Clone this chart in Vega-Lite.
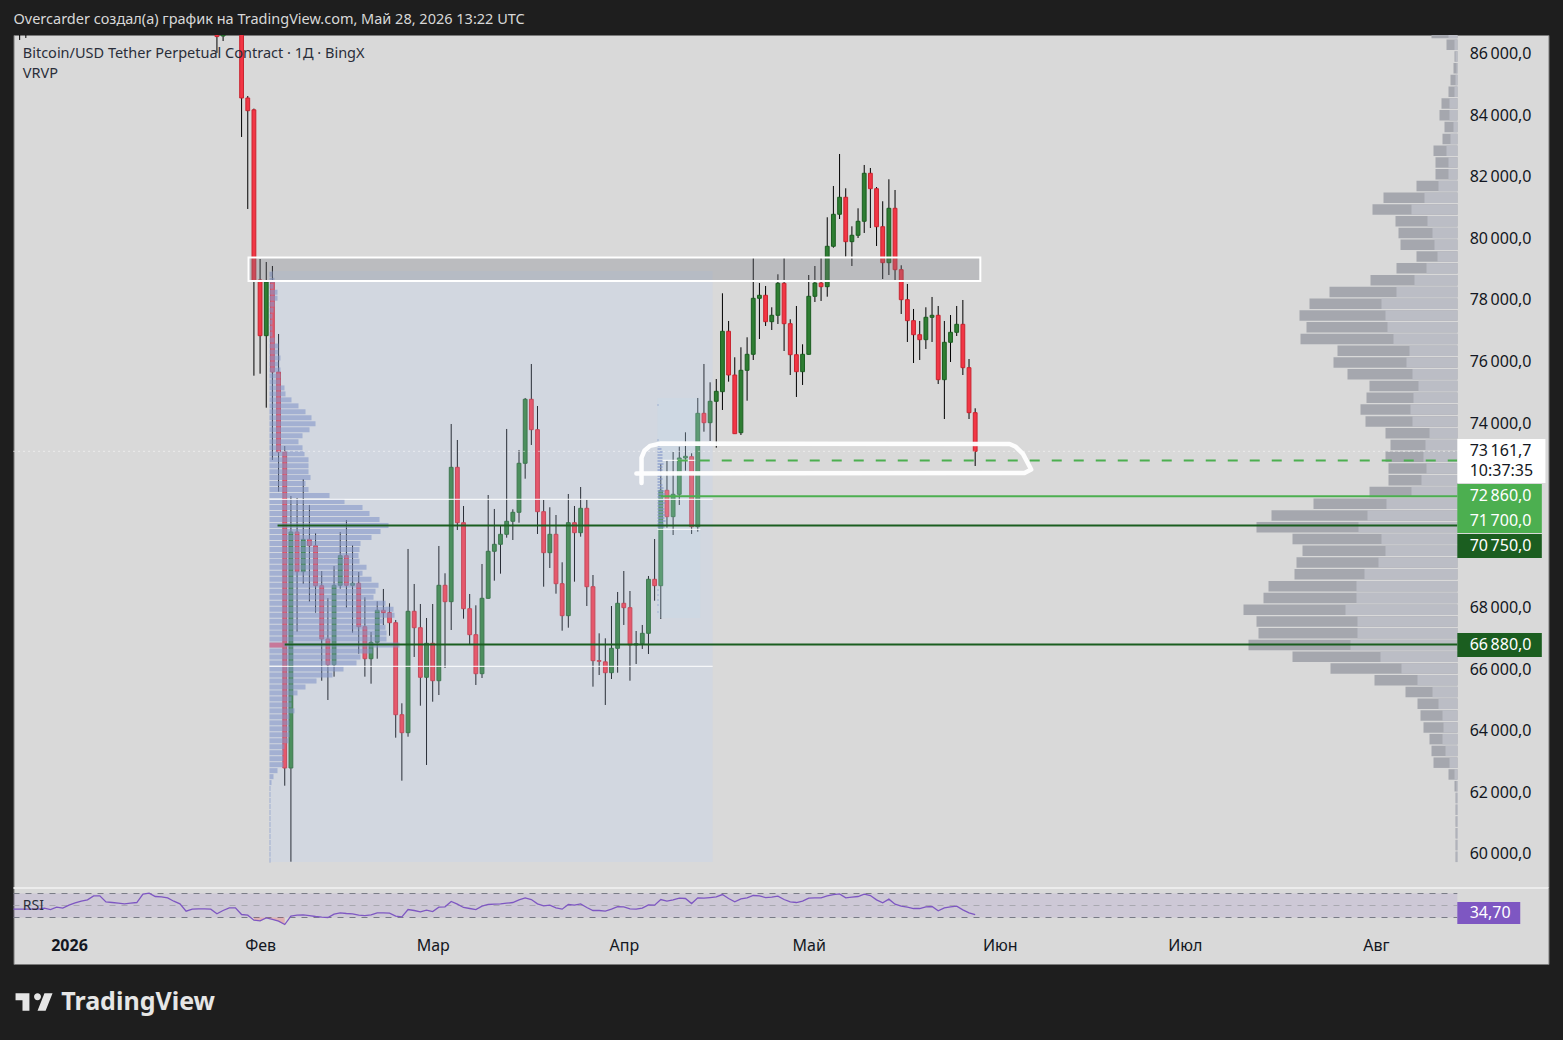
{
  "$schema": "https://vega.github.io/schema/vega-lite/v6.json",
  "background": "#1e1e1e",
  "padding": {"left": 9.5, "right": 14, "top": 0, "bottom": 0},
  "bounds": "flush",
  "spacing": 0,
  "config": {"view": {"stroke": null}, "font": "Noto Sans"},
  "datasets": {
    "candles": [
      {"d":"2025-12-24","o":87500,"h":88000,"l":86530,"c":87400},
      {"d":"2025-12-25","o":87400,"h":88000,"l":86595,"c":87500},
      {"d":"2026-01-25","o":86855,"h":86950,"l":86108,"c":86640},
      {"d":"2026-01-26","o":86660,"h":86950,"l":86497,"c":86800},
      {"d":"2026-01-27","o":86800,"h":88500,"l":86750,"c":88000},
      {"d":"2026-01-28","o":88000,"h":88800,"l":87500,"c":88200},
      {"d":"2026-01-29","o":88000,"h":88200,"l":83378,"c":84645},
      {"d":"2026-01-30","o":84645,"h":84710,"l":81038,"c":84232},
      {"d":"2026-01-31","o":84260,"h":84300,"l":75620,"c":78707},
      {"d":"2026-02-01","o":78730,"h":79412,"l":75685,"c":76920},
      {"d":"2026-02-02","o":76920,"h":79315,"l":74580,"c":78665},
      {"d":"2026-02-03","o":78665,"h":79185,"l":72880,"c":75740},
      {"d":"2026-02-04","o":75740,"h":76975,"l":71850,"c":73140},
      {"d":"2026-02-05","o":73140,"h":73335,"l":62295,"c":62870},
      {"d":"2026-02-06","o":62870,"h":71710,"l":59825,"c":70540},
      {"d":"2026-02-07","o":70540,"h":71645,"l":67300,"c":69250},
      {"d":"2026-02-08","o":69250,"h":72262,"l":68850,"c":70300},
      {"d":"2026-02-09","o":70300,"h":71418,"l":68275,"c":70095},
      {"d":"2026-02-10","o":70095,"h":70508,"l":67918,"c":68795},
      {"d":"2026-02-11","o":68795,"h":69272,"l":65707,"c":67062},
      {"d":"2026-02-12","o":67062,"h":68395,"l":65080,"c":66227},
      {"d":"2026-02-13","o":66227,"h":69435,"l":65838,"c":68808},
      {"d":"2026-02-14","o":68808,"h":70540,"l":68697,"c":69770},
      {"d":"2026-02-15","o":69770,"h":70930,"l":68080,"c":68808},
      {"d":"2026-02-16","o":68808,"h":70108,"l":67268,"c":68873},
      {"d":"2026-02-17","o":68873,"h":69240,"l":66585,"c":67462},
      {"d":"2026-02-18","o":67462,"h":68418,"l":65838,"c":66422},
      {"d":"2026-02-19","o":66422,"h":67290,"l":65610,"c":66955},
      {"d":"2026-02-20","o":66955,"h":68288,"l":66422,"c":67995},
      {"d":"2026-02-21","o":67995,"h":68688,"l":67518,"c":67918},
      {"d":"2026-02-22","o":67918,"h":68223,"l":67170,"c":67592},
      {"d":"2026-02-23","o":67592,"h":67680,"l":63855,"c":64602},
      {"d":"2026-02-24","o":64602,"h":64973,"l":62458,"c":64018},
      {"d":"2026-02-25","o":64018,"h":69988,"l":63887,"c":67963},
      {"d":"2026-02-26","o":67963,"h":68850,"l":66478,"c":67430},
      {"d":"2026-02-27","o":67430,"h":68200,"l":64895,"c":65818},
      {"d":"2026-02-28","o":65818,"h":67745,"l":62968,"c":66923},
      {"d":"2026-03-01","o":66923,"h":68200,"l":65025,"c":65707},
      {"d":"2026-03-02","o":65707,"h":70085,"l":65242,"c":68808},
      {"d":"2026-03-03","o":68808,"h":69198,"l":66120,"c":68275},
      {"d":"2026-03-04","o":68275,"h":74050,"l":67355,"c":72642},
      {"d":"2026-03-05","o":72642,"h":73530,"l":70605,"c":70842},
      {"d":"2026-03-06","o":70842,"h":71385,"l":67723,"c":68047},
      {"d":"2026-03-07","o":68047,"h":68525,"l":66868,"c":67203},
      {"d":"2026-03-08","o":67203,"h":68157,"l":65568,"c":65935},
      {"d":"2026-03-09","o":65935,"h":69500,"l":65795,"c":68385},
      {"d":"2026-03-10","o":68385,"h":71742,"l":68372,"c":69913},
      {"d":"2026-03-11","o":69913,"h":71288,"l":68957,"c":70140},
      {"d":"2026-03-12","o":70140,"h":70745,"l":69185,"c":70465},
      {"d":"2026-03-13","o":70465,"h":73888,"l":70355,"c":70888},
      {"d":"2026-03-14","o":70888,"h":71278,"l":70280,"c":71180},
      {"d":"2026-03-15","o":71180,"h":73205,"l":70842,"c":72773},
      {"d":"2026-03-16","o":72773,"h":74895,"l":72272,"c":74853},
      {"d":"2026-03-17","o":74853,"h":76000,"l":73368,"c":73865},
      {"d":"2026-03-18","o":73865,"h":74635,"l":70475,"c":71200},
      {"d":"2026-03-19","o":71200,"h":71580,"l":68762,"c":69867},
      {"d":"2026-03-20","o":69867,"h":71343,"l":69370,"c":70465},
      {"d":"2026-03-21","o":70465,"h":71092,"l":68535,"c":68860},
      {"d":"2026-03-22","o":68860,"h":69555,"l":67333,"c":67820},
      {"d":"2026-03-23","o":67820,"h":71775,"l":67430,"c":70842},
      {"d":"2026-03-24","o":70842,"h":71385,"l":68925,"c":70517},
      {"d":"2026-03-25","o":70517,"h":72002,"l":70388,"c":71310},
      {"d":"2026-03-26","o":71310,"h":71580,"l":68135,"c":68762},
      {"d":"2026-03-27","o":68762,"h":69142,"l":65513,"c":66358},
      {"d":"2026-03-28","o":66358,"h":67247,"l":65892,"c":66340},
      {"d":"2026-03-29","o":66320,"h":67085,"l":64918,"c":65967},
      {"d":"2026-03-30","o":65967,"h":68135,"l":65762,"c":66760},
      {"d":"2026-03-31","o":66760,"h":68590,"l":65967,"c":68223},
      {"d":"2026-04-01","o":68223,"h":69272,"l":67518,"c":68080},
      {"d":"2026-04-02","o":68080,"h":68622,"l":65707,"c":66868},
      {"d":"2026-04-03","o":66868,"h":67322,"l":66250,"c":66910},
      {"d":"2026-04-04","o":66910,"h":67518,"l":66738,"c":67247},
      {"d":"2026-04-05","o":67247,"h":69110,"l":66575,"c":69003},
      {"d":"2026-04-06","o":69003,"h":70312,"l":68307,"c":68795},
      {"d":"2026-04-07","o":68795,"h":72750,"l":67712,"c":71895},
      {"d":"2026-04-08","o":71895,"h":72857,"l":70680,"c":71038},
      {"d":"2026-04-09","o":71038,"h":73140,"l":70442,"c":71765},
      {"d":"2026-04-10","o":71765,"h":73312,"l":71418,"c":72945},
      {"d":"2026-04-11","o":72945,"h":73780,"l":72532,"c":73000},
      {"d":"2026-04-12","o":72987,"h":73098,"l":70475,"c":70712},
      {"d":"2026-04-13","o":70712,"h":74895,"l":70550,"c":74397},
      {"d":"2026-04-14","o":74397,"h":76000,"l":73800,"c":74092},
      {"d":"2026-04-15","o":74092,"h":75405,"l":73498,"c":74788},
      {"d":"2026-04-16","o":74788,"h":75512,"l":73280,"c":75112},
      {"d":"2026-04-17","o":75100,"h":78298,"l":74505,"c":77063},
      {"d":"2026-04-18","o":77063,"h":77398,"l":75425,"c":75642},
      {"d":"2026-04-19","o":75642,"h":76218,"l":73735,"c":73735},
      {"d":"2026-04-20","o":73767,"h":76543,"l":73692,"c":75795},
      {"d":"2026-04-21","o":75795,"h":76868,"l":74807,"c":76315},
      {"d":"2026-04-22","o":76315,"h":79478,"l":76130,"c":78135},
      {"d":"2026-04-23","o":78135,"h":78632,"l":76812,"c":78233},
      {"d":"2026-04-24","o":78233,"h":78535,"l":77235,"c":77375},
      {"d":"2026-04-25","o":77375,"h":77843,"l":77105,"c":77583},
      {"d":"2026-04-26","o":77583,"h":78915,"l":77300,"c":78623},
      {"d":"2026-04-27","o":78623,"h":79445,"l":76422,"c":77310},
      {"d":"2026-04-28","o":77310,"h":77453,"l":75642,"c":76302},
      {"d":"2026-04-29","o":76302,"h":77885,"l":74928,"c":75750},
      {"d":"2026-04-30","o":75750,"h":76640,"l":75318,"c":76315},
      {"d":"2026-05-01","o":76315,"h":78892,"l":76302,"c":78200},
      {"d":"2026-05-02","o":78200,"h":79185,"l":78015,"c":78632},
      {"d":"2026-05-03","o":78632,"h":79445,"l":78048,"c":78512},
      {"d":"2026-05-04","o":78512,"h":80768,"l":78187,"c":79825},
      {"d":"2026-05-05","o":79825,"h":81785,"l":79780,"c":80865},
      {"d":"2026-05-06","o":80865,"h":82825,"l":80712,"c":81418},
      {"d":"2026-05-07","o":81418,"h":81710,"l":79487,"c":79975},
      {"d":"2026-05-08","o":79975,"h":80475,"l":79185,"c":80183},
      {"d":"2026-05-09","o":80183,"h":81060,"l":80095,"c":80638},
      {"d":"2026-05-10","o":80638,"h":82468,"l":80258,"c":82198},
      {"d":"2026-05-11","o":82198,"h":82370,"l":80420,"c":81697},
      {"d":"2026-05-12","o":81697,"h":81752,"l":79835,"c":80462},
      {"d":"2026-05-13","o":80462,"h":81288,"l":78762,"c":79292},
      {"d":"2026-05-14","o":79292,"h":82003,"l":78892,"c":81060},
      {"d":"2026-05-15","o":81060,"h":81655,"l":78698,"c":79065},
      {"d":"2026-05-16","o":79065,"h":79208,"l":77625,"c":78090},
      {"d":"2026-05-17","o":78090,"h":78600,"l":76715,"c":77408},
      {"d":"2026-05-18","o":77408,"h":77788,"l":76032,"c":76952},
      {"d":"2026-05-19","o":76952,"h":77398,"l":76130,"c":76790},
      {"d":"2026-05-20","o":76790,"h":77843,"l":76488,"c":77518},
      {"d":"2026-05-21","o":77518,"h":78178,"l":76715,"c":77583},
      {"d":"2026-05-22","o":77583,"h":77885,"l":75350,"c":75490},
      {"d":"2026-05-23","o":75490,"h":77398,"l":74212,"c":76705},
      {"d":"2026-05-24","o":76705,"h":77592,"l":76065,"c":77030},
      {"d":"2026-05-25","o":77030,"h":77885,"l":76910,"c":77290},
      {"d":"2026-05-26","o":77290,"h":78080,"l":75642,"c":75880},
      {"d":"2026-05-27","o":75880,"h":76162,"l":74212,"c":74418},
      {"d":"2026-05-28","o":74418,"h":74560,"l":72685,"c":73161.7}
    ],
    "vrvp": [
      {"p":78915,"v":3},{"p":78721,"v":5},{"p":78526,"v":4},{"p":78332,"v":8},{"p":78138,"v":8},{"p":77943,"v":5},{"p":77749,"v":4},{"p":77555,"v":3},{"p":77360,"v":3},{"p":77166,"v":3},
      {"p":76972,"v":3},{"p":76777,"v":5},{"p":76583,"v":9},{"p":76389,"v":9},{"p":76194,"v":11},{"p":76000,"v":9},{"p":75806,"v":11},{"p":75611,"v":11},{"p":75417,"v":11},{"p":75222,"v":15},
      {"p":75028,"v":16},{"p":74834,"v":22},{"p":74639,"v":29},{"p":74445,"v":36},{"p":74251,"v":42},{"p":74056,"v":46},{"p":73862,"v":40},{"p":73668,"v":33},{"p":73473,"v":29},{"p":73279,"v":33},
      {"p":73085,"v":35},{"p":72890,"v":39},{"p":72696,"v":39},{"p":72501,"v":39},{"p":72307,"v":41},{"p":72113,"v":36},{"p":71918,"v":39},{"p":71724,"v":60},{"p":71530,"v":75},{"p":71335,"v":93},
      {"p":71141,"v":100},{"p":70947,"v":110},{"p":70752,"v":119},{"p":70558,"v":111},{"p":70364,"v":102},{"p":70169,"v":91},{"p":69975,"v":90},{"p":69780,"v":89},{"p":69586,"v":90},{"p":69392,"v":97},
      {"p":69197,"v":93},{"p":69003,"v":102},{"p":68809,"v":109},{"p":68614,"v":106},{"p":68420,"v":104},{"p":68226,"v":116},{"p":68031,"v":124},{"p":67837,"v":125},{"p":67642,"v":114},{"p":67448,"v":116},
      {"p":67254,"v":117},{"p":67059,"v":117},{"p":66865,"v":130},{"p":66671,"v":103},{"p":66476,"v":91},{"p":66282,"v":87},{"p":66088,"v":74},{"p":65893,"v":63},{"p":65699,"v":47},{"p":65505,"v":36},
      {"p":65310,"v":28},{"p":65116,"v":22},{"p":64921,"v":22},{"p":64727,"v":25},{"p":64533,"v":20},{"p":64338,"v":20},{"p":64144,"v":20},{"p":63950,"v":20},{"p":63755,"v":19},{"p":63561,"v":15},
      {"p":63367,"v":14},{"p":63172,"v":14},{"p":62978,"v":14},{"p":62784,"v":8},{"p":62589,"v":4},{"p":62395,"v":2},{"p":62201,"v":1},{"p":62006,"v":1},{"p":61812,"v":1},{"p":61617,"v":1},
      {"p":61423,"v":1},{"p":61229,"v":1},{"p":61034,"v":1},{"p":60840,"v":1},{"p":60646,"v":1},{"p":60451,"v":1},{"p":60257,"v":1},{"p":60063,"v":1},{"p":59868,"v":1}
    ],
    "vrvp2": [
      {"p":74668,"v":1},{"p":73530,"v":1},{"p":73335,"v":2},{"p":73238,"v":4},{"p":73140,"v":5},{"p":73043,"v":5},{"p":72945,"v":5},{"p":72848,"v":5},{"p":72750,"v":6},{"p":72653,"v":5},
      {"p":72555,"v":5},{"p":72458,"v":6},{"p":72360,"v":4},{"p":72263,"v":5},{"p":72165,"v":3},{"p":72068,"v":5},{"p":71970,"v":6},{"p":71873,"v":7},{"p":71775,"v":8},{"p":71678,"v":6},
      {"p":71580,"v":7},{"p":71483,"v":8},{"p":71385,"v":6},{"p":71288,"v":7},{"p":71190,"v":7},{"p":71093,"v":8},{"p":70995,"v":7},{"p":70898,"v":8},{"p":70800,"v":6},{"p":70703,"v":7},
      {"p":68655,"v":1},{"p":68493,"v":1},{"p":68330,"v":1},{"p":68168,"v":1},{"p":67940,"v":1}
    ],
    "profile": [
      {"p":86758,"t":26,"b":9},{"p":86375,"t":11,"b":3},{"p":85993,"t":3,"b":2},{"p":85610,"t":4,"b":1},{"p":85228,"t":7,"b":2},{"p":84845,"t":9,"b":3},{"p":84463,"t":16,"b":8},{"p":84080,"t":18,"b":8},
      {"p":83698,"t":13,"b":4},{"p":83315,"t":15,"b":7},{"p":82933,"t":24,"b":11},{"p":82550,"t":22,"b":9},{"p":82168,"t":22,"b":9},{"p":81785,"t":41,"b":19},{"p":81403,"t":74,"b":33},{"p":81020,"t":85,"b":46},
      {"p":80638,"t":62,"b":30},{"p":80255,"t":59,"b":25},{"p":79873,"t":57,"b":23},{"p":79490,"t":41,"b":20},{"p":79108,"t":61,"b":31},{"p":78725,"t":87,"b":43},{"p":78343,"t":128,"b":61},{"p":77960,"t":148,"b":76},
      {"p":77578,"t":158,"b":72},{"p":77195,"t":151,"b":70},{"p":76813,"t":157,"b":64},{"p":76430,"t":120,"b":48},{"p":76048,"t":124,"b":51},{"p":75665,"t":110,"b":45},{"p":75283,"t":88,"b":39},{"p":74900,"t":91,"b":44},
      {"p":74518,"t":97,"b":47},{"p":74135,"t":92,"b":45},{"p":73753,"t":72,"b":28},{"p":73370,"t":67,"b":32},{"p":72988,"t":72,"b":34},{"p":72605,"t":69,"b":31},{"p":72223,"t":69,"b":36},{"p":71840,"t":88,"b":46},
      {"p":71458,"t":144,"b":71},{"p":71075,"t":186,"b":90},{"p":70693,"t":201,"b":99},{"p":70310,"t":165,"b":76},{"p":69928,"t":155,"b":72},{"p":69545,"t":161,"b":79},{"p":69163,"t":163,"b":93},{"p":68780,"t":189,"b":101},
      {"p":68398,"t":194,"b":101},{"p":68015,"t":214,"b":112},{"p":67633,"t":201,"b":100},{"p":67250,"t":199,"b":100},{"p":66868,"t":209,"b":107},{"p":66485,"t":165,"b":77},{"p":66103,"t":127,"b":56},{"p":65720,"t":83,"b":40},
      {"p":65338,"t":52,"b":25},{"p":64955,"t":40,"b":19},{"p":64573,"t":37,"b":15},{"p":64190,"t":34,"b":14},{"p":63808,"t":28,"b":15},{"p":63425,"t":26,"b":12},{"p":63043,"t":24,"b":8},{"p":62660,"t":9,"b":3},
      {"p":62278,"t":3,"b":1},{"p":61895,"t":2,"b":1},{"p":61513,"t":2,"b":1},{"p":61130,"t":2,"b":1},{"p":60748,"t":2,"b":1},{"p":60365,"t":2,"b":1},{"p":59983,"t":2,"b":1}
    ],
    "rsi": [
      {"d":"2025-12-23","rsi":43.9},{"d":"2025-12-24","rsi":43.9},{"d":"2025-12-25","rsi":43.9},{"d":"2025-12-26","rsi":43.9},{"d":"2025-12-27","rsi":43.9},{"d":"2025-12-28","rsi":45.6},{"d":"2025-12-29","rsi":43.3},{"d":"2025-12-30","rsi":47.2},{"d":"2025-12-31","rsi":45.6},
      {"d":"2026-01-01","rsi":50.6},{"d":"2026-01-02","rsi":54.4},{"d":"2026-01-03","rsi":57.2},{"d":"2026-01-04","rsi":59.4},{"d":"2026-01-05","rsi":66.1},{"d":"2026-01-06","rsi":66.1},{"d":"2026-01-07","rsi":56.1},{"d":"2026-01-08","rsi":55},{"d":"2026-01-09","rsi":53.9},{"d":"2026-01-10","rsi":52.8},
      {"d":"2026-01-11","rsi":53.9},{"d":"2026-01-12","rsi":55},{"d":"2026-01-13","rsi":68.9},{"d":"2026-01-14","rsi":70.6},{"d":"2026-01-15","rsi":65},{"d":"2026-01-16","rsi":64.4},{"d":"2026-01-17","rsi":62.8},{"d":"2026-01-18","rsi":57.2},{"d":"2026-01-19","rsi":52.8},{"d":"2026-01-20","rsi":40.6},
      {"d":"2026-01-21","rsi":43.9},{"d":"2026-01-22","rsi":44.4},{"d":"2026-01-23","rsi":44.4},{"d":"2026-01-24","rsi":43.9},{"d":"2026-01-25","rsi":36.1},{"d":"2026-01-26","rsi":41.7},{"d":"2026-01-27","rsi":46.1},{"d":"2026-01-28","rsi":46.1},{"d":"2026-01-29","rsi":35},{"d":"2026-01-30","rsi":33.9},{"d":"2026-01-31","rsi":25.6},
      {"d":"2026-02-01","rsi":24.4},{"d":"2026-02-02","rsi":29.4},{"d":"2026-02-03","rsi":26.7},{"d":"2026-02-04","rsi":23.9},{"d":"2026-02-05","rsi":18.3},{"d":"2026-02-06","rsi":32.2},{"d":"2026-02-07","rsi":33.9},{"d":"2026-02-08","rsi":34.4},{"d":"2026-02-09","rsi":33.3},{"d":"2026-02-10","rsi":31.7},
      {"d":"2026-02-11","rsi":30.6},{"d":"2026-02-12","rsi":30},{"d":"2026-02-13","rsi":35.6},{"d":"2026-02-14","rsi":37.8},{"d":"2026-02-15","rsi":36.7},{"d":"2026-02-16","rsi":36.1},{"d":"2026-02-17","rsi":33.9},{"d":"2026-02-18","rsi":33.3},{"d":"2026-02-19","rsi":34.4},{"d":"2026-02-20","rsi":37.8},
      {"d":"2026-02-21","rsi":37.8},{"d":"2026-02-22","rsi":37.2},{"d":"2026-02-23","rsi":32.2},{"d":"2026-02-24","rsi":31.1},{"d":"2026-02-25","rsi":43.3},{"d":"2026-02-26","rsi":41.7},{"d":"2026-02-27","rsi":39.4},{"d":"2026-02-28","rsi":42.2},
      {"d":"2026-03-01","rsi":40},{"d":"2026-03-02","rsi":47.2},{"d":"2026-03-03","rsi":47.8},{"d":"2026-03-04","rsi":56.7},{"d":"2026-03-05","rsi":52.2},{"d":"2026-03-06","rsi":46.7},{"d":"2026-03-07","rsi":45},{"d":"2026-03-08","rsi":43.3},{"d":"2026-03-09","rsi":48.9},{"d":"2026-03-10","rsi":51.7},
      {"d":"2026-03-11","rsi":52.2},{"d":"2026-03-12","rsi":52.8},{"d":"2026-03-13","rsi":53.9},{"d":"2026-03-14","rsi":55},{"d":"2026-03-15","rsi":59.4},{"d":"2026-03-16","rsi":62.8},{"d":"2026-03-17","rsi":60},{"d":"2026-03-18","rsi":52.8},{"d":"2026-03-19","rsi":49.4},{"d":"2026-03-20","rsi":50.6},
      {"d":"2026-03-21","rsi":46.1},{"d":"2026-03-22","rsi":43.9},{"d":"2026-03-23","rsi":51.7},{"d":"2026-03-24","rsi":50.6},{"d":"2026-03-25","rsi":52.8},{"d":"2026-03-26","rsi":46.7},{"d":"2026-03-27","rsi":41.7},{"d":"2026-03-28","rsi":41.7},{"d":"2026-03-29","rsi":40.6},{"d":"2026-03-30","rsi":43.9},{"d":"2026-03-31","rsi":48.3},
      {"d":"2026-04-01","rsi":47.8},{"d":"2026-04-02","rsi":44.4},{"d":"2026-04-03","rsi":43.9},{"d":"2026-04-04","rsi":45.6},{"d":"2026-04-05","rsi":51.1},{"d":"2026-04-06","rsi":50.6},{"d":"2026-04-07","rsi":60},{"d":"2026-04-08","rsi":57.2},{"d":"2026-04-09","rsi":59.4},{"d":"2026-04-10","rsi":62.2},
      {"d":"2026-04-11","rsi":61.7},{"d":"2026-04-12","rsi":53.3},{"d":"2026-04-13","rsi":62.8},{"d":"2026-04-14","rsi":62.2},{"d":"2026-04-15","rsi":63.3},{"d":"2026-04-16","rsi":64.4},{"d":"2026-04-17","rsi":68.3},{"d":"2026-04-18","rsi":61.7},{"d":"2026-04-19","rsi":56.1},{"d":"2026-04-20","rsi":61.1},
      {"d":"2026-04-21","rsi":62.8},{"d":"2026-04-22","rsi":66.7},{"d":"2026-04-23","rsi":66.1},{"d":"2026-04-24","rsi":63.3},{"d":"2026-04-25","rsi":63.9},{"d":"2026-04-26","rsi":65.6},{"d":"2026-04-27","rsi":60},{"d":"2026-04-28","rsi":56.1},{"d":"2026-04-29","rsi":55},{"d":"2026-04-30","rsi":57.2},
      {"d":"2026-05-01","rsi":62.2},{"d":"2026-05-02","rsi":62.8},{"d":"2026-05-03","rsi":62.8},{"d":"2026-05-04","rsi":66.1},{"d":"2026-05-05","rsi":68.3},{"d":"2026-05-06","rsi":69.4},{"d":"2026-05-07","rsi":62.8},{"d":"2026-05-08","rsi":63.9},{"d":"2026-05-09","rsi":65},{"d":"2026-05-10","rsi":68.9},
      {"d":"2026-05-11","rsi":66.7},{"d":"2026-05-12","rsi":59.4},{"d":"2026-05-13","rsi":54.4},{"d":"2026-05-14","rsi":60.6},{"d":"2026-05-15","rsi":52.2},{"d":"2026-05-16","rsi":48.9},{"d":"2026-05-17","rsi":47.2},{"d":"2026-05-18","rsi":45},{"d":"2026-05-19","rsi":45},{"d":"2026-05-20","rsi":47.8},
      {"d":"2026-05-21","rsi":48.3},{"d":"2026-05-22","rsi":41.1},{"d":"2026-05-23","rsi":46.1},{"d":"2026-05-24","rsi":47.8},{"d":"2026-05-25","rsi":48.9},{"d":"2026-05-26","rsi":42.8},{"d":"2026-05-27","rsi":37.8},{"d":"2026-05-28","rsi":34.7}
    ]
  },
  "vconcat": [
    {
      "width": 1535,
      "height": 35,
      "data": {"values": [{"x": "2025-12-23T00:00:00Z", "y": 0.44, "t": "Overcarder создал(а) график на TradingView.com, Май 28, 2026 13:22 UTC"}]},
      "mark": {"type": "text", "align": "left", "baseline": "middle", "fontSize": 14.5, "color": "#d8d8d8"},
      "encoding": {
        "x": {"field": "x", "type": "temporal", "axis": null, "scale": {"type": "utc", "domain": ["2025-12-23T00:00:00Z", "2026-08-29T00:00:00Z"]}},
        "y": {"field": "y", "type": "quantitative", "axis": null, "scale": {"domain": [0, 1]}},
        "text": {"field": "t"}
      }
    },
    {
      "width": 1535,
      "height": 853,
      "view": {"fill": "#d9d9d9", "stroke": "#7a7a7a"},
      "resolve": {"scale": {"x": "independent"}},
      "layer": [
        {
          "data": {"name": "candles"},
          "mark": {"type": "rule", "color": "#000000", "strokeWidth": 1, "clip": true},
          "encoding": {
            "x": {"field": "d", "type": "temporal", "axis": null, "scale": {"type": "utc", "domain": ["2025-12-23T00:00:00Z", "2026-08-29T00:00:00Z"]}},
            "y": {"field": "h", "type": "quantitative", "title": null, "axis": null, "scale": {"domain": [58970, 86692], "nice": false, "zero": false, "padding": 0}},
            "y2": {"field": "l"}
          }
        },
        {
          "data": {"name": "candles"},
          "mark": {"type": "bar", "size": 3.8, "strokeWidth": 1, "clip": true},
          "encoding": {
            "x": {"field": "d", "type": "temporal", "axis": null, "scale": {"type": "utc", "padding": 0, "domain": ["2025-12-23T00:00:00Z", "2026-08-29T00:00:00Z"]}},
            "y": {"field": "o", "type": "quantitative", "axis": null},
            "y2": {"field": "c"},
            "fill": {"condition": {"test": "datum.c >= datum.o", "value": "#2e7d32"}, "value": "#f23645"},
            "stroke": {"condition": {"test": "datum.c >= datum.o", "value": "#1b5e20"}, "value": "#c9242f"}
          }
        },
        {
          "data": {"values": [{"a": "2026-02-02T12:00:00Z", "b": "2026-04-15T10:00:00Z", "top": 79022, "bot": 59815}]},
          "mark": {"type": "rect", "fill": "#bbd0fc", "fillOpacity": 0.22},
          "encoding": {
            "x": {"field": "a", "type": "temporal", "axis": null, "scale": {"type": "utc", "domain": ["2025-12-23T00:00:00Z", "2026-08-29T00:00:00Z"]}},
            "x2": {"field": "b"},
            "y": {"field": "top", "type": "quantitative", "axis": null},
            "y2": {"field": "bot"}
          }
        },
        {
          "data": {"values": [{"a": "2026-04-06T11:00:00Z", "b": "2026-04-13T10:00:00Z", "top": 74895, "bot": 67745}]},
          "mark": {"type": "rect", "fill": "#b8e0f0", "fillOpacity": 0.16},
          "encoding": {
            "x": {"field": "a", "type": "temporal", "axis": null, "scale": {"type": "utc", "domain": ["2025-12-23T00:00:00Z", "2026-08-29T00:00:00Z"]}},
            "x2": {"field": "b"},
            "y": {"field": "top", "type": "quantitative", "axis": null},
            "y2": {"field": "bot"}
          }
        },
        {
          "data": {"name": "vrvp"},
          "mark": {"type": "bar", "orient": "horizontal", "size": 5, "fill": "#8496c8", "fillOpacity": 0.6},
          "encoding": {
            "x": {"field": "v", "type": "quantitative", "axis": null, "scale": {"domain": [-256, 1279], "nice": false}},
            "x2": {"datum": 0},
            "y": {"field": "p", "type": "quantitative", "axis": null}
          }
        },
        {
          "data": {"values": [{"p": 66865, "v": 14}]},
          "mark": {"type": "bar", "orient": "horizontal", "size": 5, "fill": "#d06a8c", "fillOpacity": 0.8},
          "encoding": {
            "x": {"field": "v", "type": "quantitative", "axis": null, "scale": {"domain": [-256, 1279], "nice": false}},
            "x2": {"datum": 0},
            "y": {"field": "p", "type": "quantitative", "axis": null}
          }
        },
        {
          "data": {"name": "vrvp2"},
          "mark": {"type": "bar", "orient": "horizontal", "size": 2, "fill": "#8496c8", "fillOpacity": 0.6},
          "encoding": {
            "x": {"field": "v", "type": "quantitative", "axis": null, "scale": {"domain": [-644, 891], "nice": false}},
            "x2": {"datum": 0},
            "y": {"field": "p", "type": "quantitative", "axis": null}
          }
        },
        {
          "data": {"values": [
            {"a": "2026-02-02T12:00:00Z", "b": "2026-04-15T10:00:00Z", "p": 71603},
            {"a": "2026-02-02T12:00:00Z", "b": "2026-04-15T10:00:00Z", "p": 66175},
            {"a": "2026-04-07T07:00:00Z", "b": "2026-04-12T14:00:00Z", "p": 72870},
            {"a": "2026-04-06T11:00:00Z", "b": "2026-04-13T10:00:00Z", "p": 70628}
          ]},
          "mark": {"type": "rule", "color": "#ffffff", "strokeWidth": 1},
          "encoding": {
            "x": {"field": "a", "type": "temporal", "axis": null, "scale": {"type": "utc", "domain": ["2025-12-23T00:00:00Z", "2026-08-29T00:00:00Z"]}},
            "x2": {"field": "b"},
            "y": {"field": "p", "type": "quantitative", "axis": null}
          }
        },
        {
          "data": {"name": "profile"},
          "mark": {"type": "bar", "orient": "horizontal", "size": 10.5, "fill": "#a5a7ae", "clip": true},
          "encoding": {
            "x": {"field": "t", "type": "quantitative", "axis": null, "scale": {"domain": [1444, -91], "nice": false}},
            "x2": {"datum": 0},
            "y": {"field": "p", "type": "quantitative", "axis": null}
          }
        },
        {
          "data": {"name": "profile"},
          "mark": {"type": "bar", "orient": "horizontal", "size": 10.5, "fill": "#bbbdc5", "clip": true},
          "encoding": {
            "x": {"field": "b", "type": "quantitative", "axis": null, "scale": {"domain": [1444, -91], "nice": false}},
            "x2": {"datum": 0},
            "y": {"field": "p", "type": "quantitative", "axis": null}
          }
        },
        {
          "data": {"values": [{"a": "2026-01-30T03:00:00Z", "b": "2026-05-28T20:00:00Z", "top": 79461, "bot": 78698}]},
          "mark": {"type": "rect", "fill": "#787b86", "fillOpacity": 0.3, "stroke": "#ffffff", "strokeWidth": 2},
          "encoding": {
            "x": {"field": "a", "type": "temporal", "axis": null, "scale": {"type": "utc", "domain": ["2025-12-23T00:00:00Z", "2026-08-29T00:00:00Z"]}},
            "x2": {"field": "b"},
            "y": {"field": "top", "type": "quantitative", "axis": null},
            "y2": {"field": "bot"}
          }
        },
        {
          "data": {"values": [
            {"a": "2026-02-03T20:00:00Z", "b": "2026-08-14T05:00:00Z", "p": 70750},
            {"a": "2026-02-05T00:00:00Z", "b": "2026-08-14T05:00:00Z", "p": 66880}
          ]},
          "mark": {"type": "rule", "color": "#1b5e20", "strokeWidth": 2},
          "encoding": {
            "x": {"field": "a", "type": "temporal", "axis": null, "scale": {"type": "utc", "domain": ["2025-12-23T00:00:00Z", "2026-08-29T00:00:00Z"]}},
            "x2": {"field": "b"},
            "y": {"field": "p", "type": "quantitative", "axis": null}
          }
        },
        {
          "data": {"values": [{"a": "2026-04-07T00:00:00Z", "b": "2026-08-14T05:00:00Z", "p": 71700}]},
          "mark": {"type": "rule", "color": "#4caf50", "strokeWidth": 2},
          "encoding": {
            "x": {"field": "a", "type": "temporal", "axis": null, "scale": {"type": "utc", "domain": ["2025-12-23T00:00:00Z", "2026-08-29T00:00:00Z"]}},
            "x2": {"field": "b"},
            "y": {"field": "p", "type": "quantitative", "axis": null}
          }
        },
        {
          "data": {"values": [{"a": "2026-04-09T18:00:00Z", "b": "2026-08-14T05:00:00Z", "p": 72860}]},
          "mark": {"type": "rule", "color": "#4caf50", "strokeWidth": 2, "strokeDash": [10, 12]},
          "encoding": {
            "x": {"field": "a", "type": "temporal", "axis": null, "scale": {"type": "utc", "domain": ["2025-12-23T00:00:00Z", "2026-08-29T00:00:00Z"]}},
            "x2": {"field": "b"},
            "y": {"field": "p", "type": "quantitative", "axis": null}
          }
        },
        {
          "data": {"values": [{"a": "2025-12-23T00:00:00Z", "b": "2026-08-14T05:00:00Z", "p": 73161.7}]},
          "mark": {"type": "rule", "color": "#ffffff", "strokeWidth": 1, "strokeDash": [1, 4]},
          "encoding": {
            "x": {"field": "a", "type": "temporal", "axis": null, "scale": {"type": "utc", "domain": ["2025-12-23T00:00:00Z", "2026-08-29T00:00:00Z"]}},
            "x2": {"field": "b"},
            "y": {"field": "p", "type": "quantitative", "axis": null}
          }
        },
        {
          "data": {"values": [
            {"k": 1, "a": "2026-04-03T21:00:00Z", "p": 72132},
            {"k": 2, "a": "2026-04-03T21:00:00Z", "p": 72960},
            {"k": 3, "a": "2026-04-04T08:00:00Z", "p": 73180},
            {"k": 4, "a": "2026-04-05T06:00:00Z", "p": 73340},
            {"k": 5, "a": "2026-04-07T00:00:00Z", "p": 73416},
            {"k": 6, "a": "2026-06-02T14:00:00Z", "p": 73400},
            {"k": 7, "a": "2026-06-03T12:00:00Z", "p": 73320},
            {"k": 8, "a": "2026-06-04T18:00:00Z", "p": 73080},
            {"k": 9, "a": "2026-06-06T02:00:00Z", "p": 72570},
            {"k": 10, "a": "2026-06-05T00:00:00Z", "p": 72460},
            {"k": 11, "a": "2026-04-03T01:00:00Z", "p": 72440}
          ]},
          "mark": {"type": "line", "color": "#ffffff", "strokeWidth": 4.5, "strokeCap": "round", "strokeJoin": "round", "opacity": 0.95},
          "encoding": {
            "x": {"field": "a", "type": "temporal", "axis": null, "scale": {"type": "utc", "domain": ["2025-12-23T00:00:00Z", "2026-08-29T00:00:00Z"]}},
            "y": {"field": "p", "type": "quantitative", "axis": null},
            "order": {"field": "k"}
          }
        },
        {
          "data": {"values": [
            {"a": "2026-08-16T05:00:00Z", "p": 86000, "t": "86\u2009000,0"},
            {"a": "2026-08-16T05:00:00Z", "p": 84000, "t": "84\u2009000,0"},
            {"a": "2026-08-16T05:00:00Z", "p": 82000, "t": "82\u2009000,0"},
            {"a": "2026-08-16T05:00:00Z", "p": 80000, "t": "80\u2009000,0"},
            {"a": "2026-08-16T05:00:00Z", "p": 78000, "t": "78\u2009000,0"},
            {"a": "2026-08-16T05:00:00Z", "p": 76000, "t": "76\u2009000,0"},
            {"a": "2026-08-16T05:00:00Z", "p": 74000, "t": "74\u2009000,0"},
            {"a": "2026-08-16T05:00:00Z", "p": 68000, "t": "68\u2009000,0"},
            {"a": "2026-08-16T05:00:00Z", "p": 66000, "t": "66\u2009000,0"},
            {"a": "2026-08-16T05:00:00Z", "p": 64000, "t": "64\u2009000,0"},
            {"a": "2026-08-16T05:00:00Z", "p": 62000, "t": "62\u2009000,0"},
            {"a": "2026-08-16T05:00:00Z", "p": 60000, "t": "60\u2009000,0"}
          ]},
          "mark": {"type": "text", "align": "left", "baseline": "middle", "fontSize": 16, "color": "#131722", "dy": -2},
          "encoding": {
            "x": {"field": "a", "type": "temporal", "axis": null, "scale": {"type": "utc", "domain": ["2025-12-23T00:00:00Z", "2026-08-29T00:00:00Z"]}},
            "y": {"field": "p", "type": "quantitative", "axis": null},
            "text": {"field": "t"}
          }
        },
        {
          "data": {"values": [
            {"a": "2026-08-14T05:00:00Z", "b": "2026-08-28T12:00:00Z", "top": 73562, "bot": 72132, "kind": "price"},
            {"a": "2026-08-14T05:00:00Z", "b": "2026-08-27T22:00:00Z", "top": 72100, "bot": 70508, "kind": "light"},
            {"a": "2026-08-14T05:00:00Z", "b": "2026-08-27T22:00:00Z", "top": 70475, "bot": 69695, "kind": "dark"},
            {"a": "2026-08-14T05:00:00Z", "b": "2026-08-27T22:00:00Z", "top": 67258, "bot": 66478, "kind": "dark"}
          ]},
          "mark": {"type": "rect"},
          "encoding": {
            "x": {"field": "a", "type": "temporal", "axis": null, "scale": {"type": "utc", "domain": ["2025-12-23T00:00:00Z", "2026-08-29T00:00:00Z"]}},
            "x2": {"field": "b"},
            "y": {"field": "top", "type": "quantitative", "axis": null},
            "y2": {"field": "bot"},
            "color": {"field": "kind", "type": "nominal", "legend": null, "scale": {"domain": ["price", "light", "dark"], "range": ["#ffffff", "#4caf50", "#1b5e20"]}}
          }
        },
        {
          "data": {"values": [
            {"a": "2026-08-16T05:00:00Z", "p": 71710, "t": "72\u2009860,0"},
            {"a": "2026-08-16T05:00:00Z", "p": 70898, "t": "71\u2009700,0"},
            {"a": "2026-08-16T05:00:00Z", "p": 70085, "t": "70\u2009750,0"},
            {"a": "2026-08-16T05:00:00Z", "p": 66868, "t": "66\u2009880,0"}
          ]},
          "mark": {"type": "text", "align": "left", "baseline": "middle", "fontSize": 16, "color": "#ffffff"},
          "encoding": {
            "x": {"field": "a", "type": "temporal", "axis": null, "scale": {"type": "utc", "domain": ["2025-12-23T00:00:00Z", "2026-08-29T00:00:00Z"]}},
            "y": {"field": "p", "type": "quantitative", "axis": null},
            "text": {"field": "t"}
          }
        },
        {
          "data": {"values": [
            {"a": "2026-08-16T05:00:00Z", "p": 73172, "t": "73\u2009161,7"},
            {"a": "2026-08-16T05:00:00Z", "p": 72522, "t": "10:37:35"}
          ]},
          "mark": {"type": "text", "align": "left", "baseline": "middle", "fontSize": 16, "color": "#131722"},
          "encoding": {
            "x": {"field": "a", "type": "temporal", "axis": null, "scale": {"type": "utc", "domain": ["2025-12-23T00:00:00Z", "2026-08-29T00:00:00Z"]}},
            "y": {"field": "p", "type": "quantitative", "axis": null},
            "text": {"field": "t"}
          }
        },
        {
          "data": {"values": [
            {"a": "2025-12-24T12:00:00Z", "p": 86075, "t": "Bitcoin/USD Tether Perpetual Contract · 1Д · BingX"},
            {"a": "2025-12-24T12:00:00Z", "p": 85425, "t": "VRVP"}
          ]},
          "mark": {"type": "text", "align": "left", "baseline": "middle", "fontSize": 14.5, "color": "#2a2e39"},
          "encoding": {
            "x": {"field": "a", "type": "temporal", "axis": null, "scale": {"type": "utc", "domain": ["2025-12-23T00:00:00Z", "2026-08-29T00:00:00Z"]}},
            "y": {"field": "p", "type": "quantitative", "axis": null},
            "text": {"field": "t"}
          }
        }
      ]
    },
    {
      "width": 1535,
      "height": 76,
      "view": {"fill": "#d9d9d9", "stroke": "#7a7a7a"},
      "layer": [
        {
          "data": {"values": [{"a": "2025-12-23T00:00:00Z", "b": "2026-08-14T05:00:00Z", "top": 70, "bot": 30}]},
          "mark": {"type": "rect", "fill": "#7e57c2", "fillOpacity": 0.13},
          "encoding": {
            "x": {
              "field": "a", "type": "temporal", "title": null,
              "scale": {"type": "utc", "domain": ["2025-12-23T00:00:00Z", "2026-08-29T00:00:00Z"]},
              "axis": {
                "orient": "bottom", "offset": -19, "domain": false, "ticks": false, "grid": false, "labelPadding": 0, "labelFontSize": 16, "labelColor": "#131722", "labelBaseline": "middle", "labelOverlap": false, "title": null,
                "values": [
                  {"year": 2026, "month": 1, "date": 1, "utc": true},
                  {"year": 2026, "month": 2, "date": 1, "utc": true},
                  {"year": 2026, "month": 3, "date": 1, "utc": true},
                  {"year": 2026, "month": 4, "date": 1, "utc": true},
                  {"year": 2026, "month": 5, "date": 1, "utc": true},
                  {"year": 2026, "month": 6, "date": 1, "utc": true},
                  {"year": 2026, "month": 7, "date": 1, "utc": true},
                  {"year": 2026, "month": 8, "date": 1, "utc": true}
                ],
                "labelExpr": "['2026', 'Фев', 'Мар', 'Апр', 'Май', 'Июн', 'Июл', 'Авг'][utcmonth(datum.value)]",
                "labelFontWeight": {"condition": {"test": "utcmonth(datum.value) == 0", "value": "bold"}, "value": "normal"}
              }
            },
            "x2": {"field": "b"},
            "y": {"field": "top", "type": "quantitative", "axis": null, "scale": {"domain": [-47.5, 79.2], "nice": false, "zero": false}},
            "y2": {"field": "bot"}
          }
        },
        {
          "data": {"values": [
            {"a": "2025-12-23T00:00:00Z", "b": "2026-08-14T05:00:00Z", "v": 70},
            {"a": "2025-12-23T00:00:00Z", "b": "2026-08-14T05:00:00Z", "v": 30}
          ]},
          "mark": {"type": "rule", "color": "#787b86", "strokeWidth": 1, "strokeDash": [6, 6]},
          "encoding": {
            "x": {"field": "a", "type": "temporal"},
            "x2": {"field": "b"},
            "y": {"field": "v", "type": "quantitative"}
          }
        },
        {
          "data": {"values": [{"a": "2025-12-23T00:00:00Z", "b": "2026-08-14T05:00:00Z", "v": 50}]},
          "mark": {"type": "rule", "color": "#a8a8b0", "strokeWidth": 1, "strokeDash": [6, 6]},
          "encoding": {
            "x": {"field": "a", "type": "temporal"},
            "x2": {"field": "b"},
            "y": {"field": "v", "type": "quantitative"}
          }
        },
        {
          "data": {"values": [{"a": "2025-12-23T00:00:00Z", "b": "2026-08-29T00:00:00Z", "v": 79}]},
          "mark": {"type": "rule", "color": "#ececec", "strokeWidth": 2},
          "encoding": {
            "x": {"field": "a", "type": "temporal"},
            "x2": {"field": "b"},
            "y": {"field": "v", "type": "quantitative"}
          }
        },
        {
          "data": {"name": "rsi"},
          "transform": [{"filter": "datum.rsi < 30"}],
          "mark": {"type": "area", "color": "#f23645", "opacity": 0.25},
          "encoding": {
            "x": {"field": "d", "type": "temporal"},
            "y": {"field": "rsi", "type": "quantitative"},
            "y2": {"datum": 30}
          }
        },
        {
          "data": {"name": "rsi"},
          "mark": {"type": "line", "color": "#7e57c2", "strokeWidth": 1.3},
          "encoding": {
            "x": {"field": "d", "type": "temporal"},
            "y": {"field": "rsi", "type": "quantitative"}
          }
        },
        {
          "data": {"values": [{"a": "2025-12-24T12:00:00Z", "v": 49, "t": "RSI"}]},
          "mark": {"type": "text", "align": "left", "baseline": "middle", "fontSize": 14, "color": "#2a2e39"},
          "encoding": {
            "x": {"field": "a", "type": "temporal"},
            "y": {"field": "v", "type": "quantitative"},
            "text": {"field": "t"}
          }
        },
        {
          "data": {"values": [{"a": "2026-08-14T05:00:00Z", "b": "2026-08-24T10:00:00Z", "top": 55.8, "bot": 19.2}]},
          "mark": {"type": "rect", "fill": "#7e57c2"},
          "encoding": {
            "x": {"field": "a", "type": "temporal"},
            "x2": {"field": "b"},
            "y": {"field": "top", "type": "quantitative"},
            "y2": {"field": "bot"}
          }
        },
        {
          "data": {"values": [{"a": "2026-08-16T05:00:00Z", "v": 37.5, "t": "34,70"}]},
          "mark": {"type": "text", "align": "left", "baseline": "middle", "fontSize": 16, "color": "#ffffff"},
          "encoding": {
            "x": {"field": "a", "type": "temporal"},
            "y": {"field": "v", "type": "quantitative"},
            "text": {"field": "t"}
          }
        }
      ]
    },
    {
      "width": 1535,
      "height": 76,
      "layer": [
        {
          "data": {"values": [{"a": "2025-12-26T08:00:00Z", "y": 0.5}]},
          "mark": {
            "type": "point", "filled": true, "opacity": 1, "size": 1369, "color": "#e6e6e6",
            "shape": "M-.25 -.469H-1V-.094H-.625V.469H-.25ZM.625 .469H.188L.5625 -.469H1ZM.1875 -.094A.1875 .1875 0 1 0 .1875 -.469A.1875 .1875 0 0 0 .1875 -.094Z"
          },
          "encoding": {
            "x": {"field": "a", "type": "temporal", "axis": null, "scale": {"type": "utc", "domain": ["2025-12-23T00:00:00Z", "2026-08-29T00:00:00Z"]}},
            "y": {"field": "y", "type": "quantitative", "axis": null, "scale": {"domain": [0, 1]}}
          }
        },
        {
          "data": {"values": [{"a": "2025-12-30T18:00:00Z", "y": 0.5, "t": "TradingView"}]},
          "mark": {"type": "text", "align": "left", "baseline": "middle", "fontSize": 25, "fontWeight": "bold", "color": "#e6e6e6"},
          "encoding": {
            "x": {"field": "a", "type": "temporal", "axis": null, "scale": {"type": "utc", "domain": ["2025-12-23T00:00:00Z", "2026-08-29T00:00:00Z"]}},
            "y": {"field": "y", "type": "quantitative", "axis": null},
            "text": {"field": "t"}
          }
        }
      ]
    }
  ]
}
